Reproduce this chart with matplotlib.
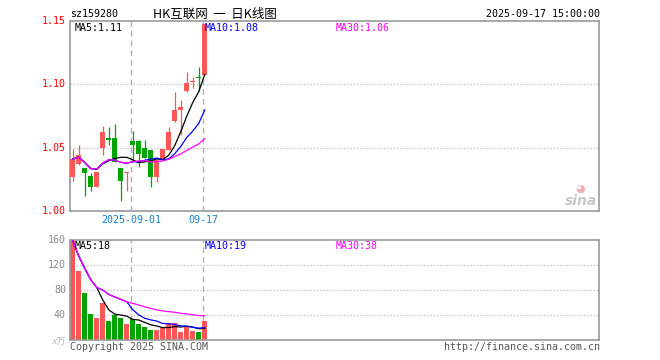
"""HK互联网 日K线图 — 仿新浪财经样式。"""

import matplotlib
matplotlib.use("Agg")
import matplotlib.pyplot as plt
import matplotlib.transforms as mtransforms
import numpy as np
import pandas as pd

# ---- 数据----
dates = ["08-18", "08-19", "08-20", "08-21", "08-22", "08-25", "08-26", "08-27",
         "08-28", "08-29", "09-01", "09-02", "09-03", "09-04", "09-05", "09-08",
         "09-09", "09-10", "09-11", "09-12", "09-15", "09-16", "09-17"]
opens = [1.027, 1.037, 1.034, 1.028, 1.019, 1.050, 1.058, 1.058, 1.034, 1.030,
         1.055, 1.055, 1.050, 1.048, 1.027, 1.040, 1.048, 1.071, 1.080, 1.095,
         1.102, 1.106, 1.107]
highs = [1.049, 1.052, 1.034, 1.030, 1.031, 1.067, 1.066, 1.069, 1.034, 1.031,
         1.063, 1.056, 1.056, 1.048, 1.042, 1.049, 1.066, 1.094, 1.088, 1.110,
         1.106, 1.114, 1.148]
lows = [1.024, 1.036, 1.012, 1.016, 1.019, 1.044, 1.052, 1.039, 1.008, 1.016,
        1.040, 1.035, 1.042, 1.019, 1.023, 1.040, 1.048, 1.070, 1.060, 1.094,
        1.097, 1.095, 1.107]
closes = [1.041, 1.044, 1.030, 1.019, 1.031, 1.062, 1.056, 1.039, 1.024, 1.031,
          1.052, 1.045, 1.042, 1.027, 1.040, 1.049, 1.062, 1.080, 1.082, 1.101,
          1.103, 1.105, 1.148]
volumes = [159, 110, 75, 42, 35, 59, 31, 40, 35, 26, 33, 26, 21, 16, 16, 20,
           27, 28, 13, 22, 14, 13, 31]

price_ticks = [1.00, 1.05, 1.10, 1.15]
vol_ticks = [40, 80, 120, 160]
date_marks = {"2025-09-01": "09-01", "09-17": "09-17"}

RED = "#ff5757"
GREEN = "#00a300"
BORDER = "#9a9a9a"
GRID = "#b0b0b0"
MONO = "DejaVu Sans Mono"
FS = 7.2
MA_STYLE = [(5, "black"), (10, "#0000ff"), (30, "#ff00ff")]  # 后画的在上层

W, H = 660, 360
fig = plt.figure(figsize=(W / 100, H / 100), dpi=100)
fig.patch.set_facecolor("white")


def px_axes(left, top, right, bottom):
    return fig.add_axes([left / W, 1 - bottom / H, (right - left) / W, (bottom - top) / H])


def ftext(x, y, s, **kw):
    kw.setdefault("family", MONO)
    kw.setdefault("fontsize", FS)
    kw.setdefault("va", "center")
    fig.text(x / W, 1 - y / H, s, **kw)


ax = px_axes(70, 21, 599, 211)
axv = px_axes(70, 240, 599, 340)

x = np.arange(len(closes))
o, h, l, c = map(np.array, (opens, highs, lows, closes))
up = c >= o
colors = np.where(up, RED, GREEN)
xlim = (-0.45, 87.7)
width = 0.84

# ---- K线 ----
ax.vlines(x, l, h, colors=colors, linewidth=0.9, zorder=2)
body_h = np.maximum(np.abs(c - o), 0.0006)
ax.bar(x, body_h, width, bottom=np.minimum(o, c), color=colors, linewidth=0, zorder=3)

cs = pd.Series(closes)
for k, (n, col) in enumerate(MA_STYLE):
    ax.plot(x, cs.rolling(n, min_periods=1).mean(), color=col, linewidth=0.9, zorder=4 + k)

ax.set_xlim(*xlim)
ax.set_ylim(1.00, 1.15)
for y in price_ticks[1:-1]:
    ax.axhline(y, color=GRID, linestyle=(0, (1, 2)), linewidth=0.8, zorder=1)

# ---- 成交量 ----
axv.bar(x, volumes, width, color=colors, linewidth=0, zorder=2)
vs = pd.Series(volumes, dtype=float)
for k, (n, col) in enumerate(MA_STYLE):
    axv.plot(x, vs.rolling(n, min_periods=1).mean(), color=col, linewidth=0.9, zorder=3 + k)
axv.set_xlim(*xlim)
axv.set_ylim(0, 160)
for y in vol_ticks[:-1]:
    axv.axhline(y, color=GRID, linestyle=(0, (1, 2)), linewidth=0.8, zorder=1)

# 日期分隔线
for label, d in date_marks.items():
    i = dates.index(d)
    for a in (ax, axv):
        a.axvline(i - 0.3, color=GRID, linestyle=(0, (4, 3)), linewidth=1.0, zorder=1)
    trans = mtransforms.blended_transform_factory(ax.transData, ax.transAxes)
    ax.text(i - 0.3, -0.048, label, transform=trans, ha="center", va="center",
            family=MONO, fontsize=FS, color="#1580d0")

for a in (ax, axv):
    a.set_xticks([])
    a.set_yticks([])
    for s in a.spines.values():
        s.set_color(BORDER)
        s.set_linewidth(1.2)

# 纵轴刻度文字
for p in price_ticks:
    ypx = 211 - (p - 1.00) / 0.15 * 190
    ftext(66, ypx, f"{p:.2f}", ha="right", color="red")
for v in vol_ticks:
    ypx = 340 - v / 160 * 100
    ftext(66, ypx, str(v), ha="right", color="#8a8a8a")
ftext(66, 342, "x万", ha="right", color="#bbbbbb", family=["DejaVu Sans", "Noto Sans CJK SC"],
      fontsize=6.5, style="italic")

# 标题与图例文字
ftext(70, 14, "sz159280", color="black")
ftext(215, 14, "HK互联网  一  日K线图", ha="center", color="black",
      family=["Noto Sans CJK SC", "DejaVu Sans"], fontsize=9)
ftext(600, 14, "2025-09-17 15:00:00", ha="right", color="black")

ftext(75, 28, "MA5:1.11", color="black")
ftext(205, 28, "MA10:1.08", color="#0000ff")
ftext(336, 28, "MA30:1.06", color="#ff00ff")
ftext(75, 246, "MA5:18", color="black")
ftext(205, 246, "MA10:19", color="#0000ff")
ftext(336, 246, "MA30:38", color="#ff00ff")

ftext(70, 347, "Copyright 2025 SINA.COM", color="#555555")
ftext(600, 347, "http://finance.sina.com.cn", ha="right", color="#555555")

# 水印
ftext(597, 201, "sina", ha="right", family="DejaVu Sans", fontsize=10,
      weight="bold", style="italic", color="#c8c8c8")
ftext(580, 189, "◕", ha="center", family="DejaVu Sans", fontsize=8, color="#f4b0b0")

fig.savefig("out.png", dpi=100)
